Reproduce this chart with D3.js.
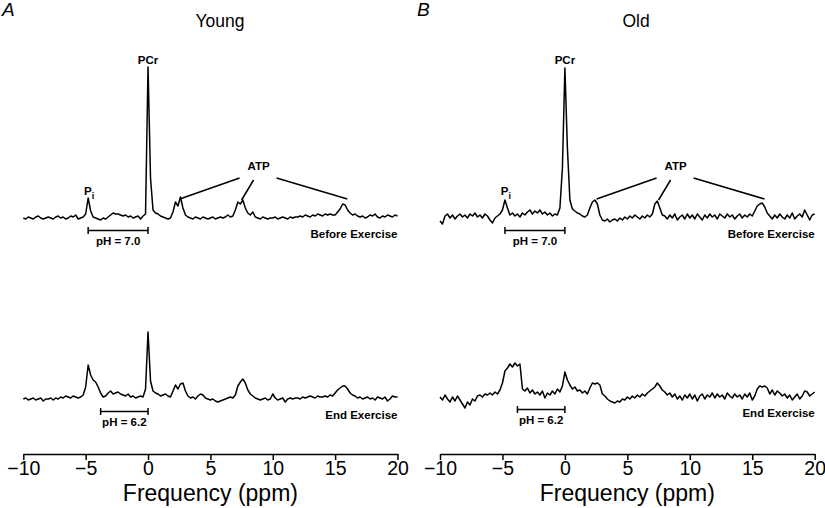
<!DOCTYPE html>
<html><head><meta charset="utf-8">
<script src="https://cdn.jsdelivr.net/npm/d3@7"></script>
<style>body{margin:0;background:#fff}svg{display:block}text{font-family:"Liberation Sans",Arial,Helvetica,sans-serif;fill:#000}</style>
</head><body>
<svg id="chart" width="825" height="508"></svg>
<script>
// ---------- DATA ----------
// chemical-shift sampling grid (ppm), 0.2 ppm spacing from -10 to 20
const ppmGrid = d3.range(0, 151).map(i => Math.round((-10 + i * 0.2) * 10) / 10);
const tickValues = [-10, -5, 0, 5, 10, 15, 20];
const panels = ["Young", "Old"];
const panelLetters = ["A", "B"];
const conditions = ["Before Exercise", "End Exercise"];
const phLabels = ["pH = 7.0", "pH = 6.2"];
const piShift = [-4.8, -3.8];   // Pi position used by the pH bars (ppm)
const atpPeaks = [2.3, 7.5, 15.9];

// signal intensities (arbitrary units, baseline = 0) read at each grid point
const youngBefore = [
 0,-1,1,0,-1,1,2,0,-1,0,
 1,0,-1,1,2,0,1,-1,0,2,
 1,3,-1,0,1,4,20,7,1,0,
 -1,-2,0,-1,1,3,5,4,4,3,
 2,3,1,2,0,1,2,-1,2,4,
 151,40,8,5,4,2,1,0,-1,0,
 6,16,12,21,10,3,1,0,-1,1,
 0,-1,1,0,-1,0,1,-1,0,1,
 0,1,3,1,2,8,16,14,18,10,
 5,3,6,1,0,-1,1,0,-1,0,
 0,1,-1,0,1,0,-1,1,0,1,
 1,2,1,3,2,1,3,2,4,3,
 2,4,3,4,3,3,6,9,14,13,
 8,5,3,4,2,1,2,0,1,3,
 2,4,1,0,2,1,3,2,1,3,
 2];
const youngEnd = [
 0,1,-1,0,1,-1,0,1,-2,0,
 0,1,-1,1,0,2,1,3,2,1,
 3,2,1,2,4,12,34,24,19,17,
 12,6,2,3,6,8,5,6,7,5,
 4,3,5,2,3,1,2,3,2,10,
 67,18,8,6,5,3,4,5,3,2,
 8,14,10,15,16,8,3,1,2,0,
 3,5,4,1,0,-1,0,-2,-3,-2,
 -1,0,1,2,1,4,13,17,20,16,
 9,5,3,1,0,-1,0,1,-1,0,
 5,1,-1,0,1,-3,0,1,0,1,
 1,0,2,1,2,3,2,1,3,2,
 2,3,2,4,3,6,9,11,13,13,
 10,6,4,3,1,2,0,1,2,0,
 1,-1,2,1,0,2,-2,0,3,2,
 2];
const oldBefore = [
 -3,-6,2,4,0,3,-1,2,4,1,
 3,0,4,2,5,1,3,0,4,2,
 -2,-5,0,2,4,8,18,10,3,5,
 2,4,1,5,3,6,8,4,7,5,
 8,4,6,3,5,2,4,3,10,50,
 150,70,18,9,7,5,4,2,1,3,
 10,16,18,14,3,-2,-3,-1,-4,-2,
 -1,-3,0,-2,1,-1,2,0,3,1,
 -1,2,0,3,1,4,14,17,10,3,
 2,-1,3,0,4,-2,1,3,-1,4,
 0,3,-1,4,1,-2,3,0,4,1,
 3,-1,4,2,0,4,1,3,-1,2,
 4,0,3,1,4,2,7,12,14,15,
 11,5,2,-1,3,0,4,1,-1,3,
 0,5,-1,2,4,1,8,3,-2,3,
 4];
const oldEnd = [
 0,-3,2,-2,-5,0,-4,1,-3,-7,
 -11,-5,-8,-2,-4,1,2,0,3,2,
 4,2,5,3,7,14,26,29,33,30,
 34,31,33,8,6,9,4,7,3,5,
 2,6,-1,4,2,6,3,8,5,11,
 25,17,12,8,10,6,7,4,6,3,
 9,14,13,14,12,3,1,-2,-4,-5,
 -6,-4,-5,-2,-3,0,-2,1,-1,2,
 0,3,1,4,6,8,10,14,11,7,
 5,2,4,0,3,-2,1,-3,2,-1,
 3,-2,2,-4,1,3,-2,2,0,4,
 -1,3,0,2,-2,4,1,-1,3,0,
 2,-2,3,0,4,-3,1,8,11,10,
 11,9,3,7,2,6,4,1,3,-1,
 2,-3,0,3,-2,1,6,5,1,3,
 5];
const spectra = [[youngBefore, youngEnd], [oldBefore, oldEnd]];

// ---------- LAYOUT ----------
const svg = d3.select("#chart");
const panelRange = [[23.3, 397.5], [440, 814.7]];
const titleX = [220, 636];
const letterX = [2, 417];
const rowBase = [[218, 399], [218, 397]];
const axisY = 454;

panels.forEach((name, p) => {
  const g = svg.append("g");
  const x = d3.scaleLinear().domain([-10, 20]).range(panelRange[p]);

  g.append("text").attr("x", letterX[p]).attr("y", 16)
    .style("font-size", "19px").style("font-style", "italic").text(panelLetters[p]);
  g.append("text").attr("x", titleX[p]).attr("y", 27).attr("text-anchor", "middle")
    .style("font-size", "17.5px").text(name);

  conditions.forEach((cond, r) => {
    const base = rowBase[p][r];
    const y = d3.scaleLinear().domain([0, 100]).range([base, base - 100]);
    const vals = spectra[p][r];
    const line = d3.line().x((d, i) => x(ppmGrid[i])).y(d => y(d));
    g.append("path").datum(vals).attr("d", line)
      .attr("fill", "none").attr("stroke", "#000").attr("stroke-width", 1.5)
      .attr("stroke-linejoin", "round");

    // condition label
    g.append("text").attr("x", panelRange[p][1]).attr("y", base + 20)
      .attr("text-anchor", "end").style("font-size", "11.5px").style("font-weight", "bold")
      .text(cond);

    // pH bar
    const by = base + 12.5;
    const x0 = x(piShift[r]), x1 = x(0);
    const bar = g.append("g").attr("stroke", "#000").attr("stroke-width", 1.5);
    bar.append("line").attr("x1", x0).attr("x2", x1).attr("y1", by).attr("y2", by);
    bar.append("line").attr("x1", x0).attr("x2", x0).attr("y1", by - 3.5).attr("y2", by + 3.5);
    bar.append("line").attr("x1", x1).attr("x2", x1).attr("y1", by - 3.5).attr("y2", by + 3.5);
    g.append("text").attr("x", (x0 + x1) / 2).attr("y", by + 14)
      .attr("text-anchor", "middle").style("font-size", "11.5px").style("font-weight", "bold")
      .text(phLabels[r]);

    if (r === 0) {
      // PCr label
      g.append("text").attr("x", x(0)).attr("y", 64).attr("text-anchor", "middle")
        .style("font-size", "11.5px").style("font-weight", "bold").text("PCr");
      // Pi label
      const pt = g.append("text").attr("x", x(-4.8) + 1).attr("y", base - 23)
        .attr("text-anchor", "middle").style("font-size", "11.5px").style("font-weight", "bold")
        .attr("fill", "#000");
      pt.append("tspan").attr("fill", "#000").text("P");
      pt.append("tspan").attr("dy", 4).attr("fill", "#000").style("font-size", "9px").text("i");
      // ATP label + leader lines
      const ax = x(7.5) + 17;
      g.append("text").attr("x", ax).attr("y", 170).attr("text-anchor", "middle")
        .style("font-size", "11.5px").style("font-weight", "bold").text("ATP");
      const starts = [[ax - 19, 178], [ax - 5, 180], [ax + 18, 178]];
      const ends = [[x(atpPeaks[0]) + 3, base - 19], [x(atpPeaks[1]), base - 18], [x(atpPeaks[2]) + 1, base - 19]];
      starts.forEach((s, k) => {
        g.append("line").attr("x1", s[0]).attr("y1", s[1]).attr("x2", ends[k][0]).attr("y2", ends[k][1])
          .attr("stroke", "#000").attr("stroke-width", 1.5);
      });
    }
  });

  // x axis
  const axis = d3.axisBottom(x).tickValues(tickValues).tickSize(6).tickSizeOuter(0).tickPadding(2)
    .tickFormat(d3.format("d"));
  const ag = g.append("g").attr("transform", `translate(0,${axisY})`).call(axis);
  ag.attr("font-size", null).attr("font-family", null);
  ag.select(".domain").attr("stroke-width", 1.5);
  ag.selectAll(".tick line").attr("stroke-width", 1.5);
  ag.selectAll(".tick text").attr("dy", null).attr("y", 21).style("font-size", "19.5px")
    .style("font-family", "'Liberation Sans',Arial,sans-serif").attr("fill", "#000");
  g.append("text").attr("x", (panelRange[p][0] + panelRange[p][1]) / 2).attr("y", 501)
    .attr("text-anchor", "middle").style("font-size", "23px").text("Frequency (ppm)");
});
</script>
</body></html>
